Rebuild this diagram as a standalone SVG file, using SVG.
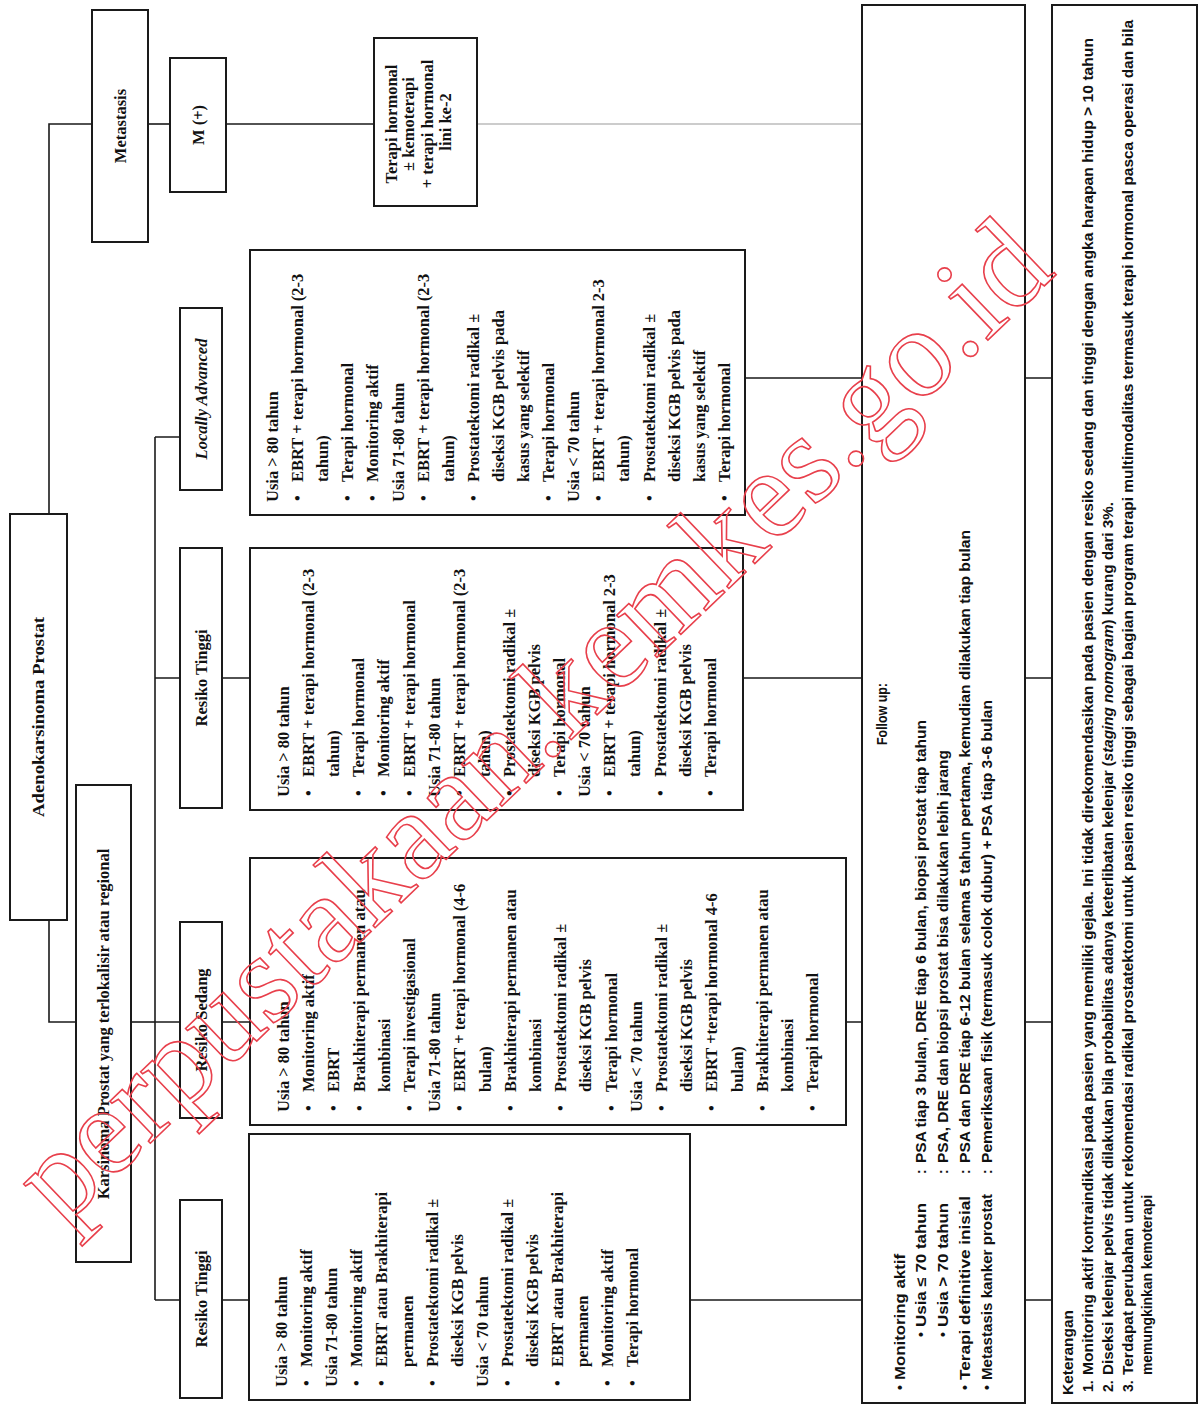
<svg xmlns="http://www.w3.org/2000/svg" width="1204" height="1406" viewBox="0 0 1204 1406">
<style>
.box{fill:#fff;stroke:#1a1a1a;stroke-width:2}
.ln{fill:none;stroke:#1a1a1a;stroke-width:1.6}
.lg{fill:none;stroke:#9a9a9a;stroke-width:1.2}
.b{font-family:"Liberation Serif","Times New Roman",serif;font-weight:bold;font-size:16.5px;fill:#111}
.bm{text-anchor:middle}
.s{font-family:"Liberation Sans",Arial,sans-serif;font-weight:bold;font-size:14px;fill:#111}
.wm{font-family:"Liberation Serif","Times New Roman",serif;font-size:127px;fill:none;stroke:#e8404c;stroke-width:1.6}
</style>
<rect x="0" y="0" width="1204" height="1406" fill="#fff"/>
<g transform="translate(0,1406) rotate(-90)">
<g id="connectors">
<path class="ln" d="M892,49 H1282 V92"/>
<path class="ln" d="M1282,148 V170"/>
<path class="ln" d="M1282,226 V374"/>
<path class="lg" d="M1282,477 V862"/>
<path class="ln" d="M486,49 H384 V76"/>
<path class="ln" d="M384,131 V155"/>
<path class="ln" d="M106,155 H969"/>
<path class="ln" d="M969,155 V180 M728,155 V180 M384,155 V180 M106,155 V180"/>
<path class="ln" d="M728,222 V250 M384,222 V250 M106,222 V250"/>
<path class="ln" d="M1028,745 V862 M728,743 V862 M384,846 V862 M106,690 V862"/>
<path class="ln" d="M1028,1025 V1052 M728,1025 V1052 M384,1025 V1052 M106,1025 V1052"/>
</g>
<g id="adenokarsinoma">
<rect class="box" x="486" y="10" width="406" height="57"/>
<text class="b bm" x="689" y="44" textLength="200" lengthAdjust="spacingAndGlyphs">Adenokarsinoma Prostat</text>
</g>
<g id="karsinoma">
<rect class="box" x="144" y="76" width="477" height="55"/>
<text class="b bm" x="382" y="109">Karsinoma Prostat yang terlokalisir atau regional</text>
</g>
<g id="metastasis">
<rect class="box" x="1164" y="92" width="232" height="56"/>
<text class="b bm" x="1280" y="126">Metastasis</text>
</g>
<g id="m-plus">
<rect class="box" x="1214" y="170" width="134" height="56"/>
<text class="b bm" x="1281" y="204">M (+)</text>
</g>
<g id="terapi-metastasis">
<rect class="box" x="1200" y="374" width="168" height="103"/>
<text class="b bm">
<tspan x="1284" y="397">Terapi hormonal</tspan>
<tspan x="1284" y="414">± kemoterapi</tspan>
<tspan x="1284" y="433">+ terapi hormonal</tspan>
<tspan x="1284" y="451">lini ke-2</tspan>
</text>
</g>
<g id="locally-advanced">
<rect class="box" x="916" y="180" width="182" height="42"/>
<text class="b bm" x="1007" y="206.5" font-style="italic">Locally Advanced</text>
</g>
<g id="resiko-tinggi-2">
<rect class="box" x="598" y="180" width="260" height="42"/>
<text class="b bm" x="728" y="206.5">Resiko Tinggi</text>
</g>
<g id="resiko-sedang">
<rect class="box" x="288" y="180" width="196" height="42"/>
<text class="b bm" x="386" y="206.5">Resiko Sedang</text>
</g>
<g id="resiko-tinggi-1">
<rect class="box" x="8" y="180" width="198" height="42"/>
<text class="b bm" x="107" y="206.5">Resiko Tinggi</text>
</g>
<g id="terapi-locally">
<rect class="box" x="891" y="250" width="265" height="495"/>
<text class="b">
<tspan x="904" y="278">Usia &gt; 80 tahun</tspan>
<tspan x="905" y="303.1">•</tspan><tspan x="924" y="303.1">EBRT + terapi hormonal (2-3</tspan>
<tspan x="924" y="328.2">tahun)</tspan>
<tspan x="905" y="353.3">•</tspan><tspan x="924" y="353.3">Terapi hormonal</tspan>
<tspan x="905" y="378.4">•</tspan><tspan x="924" y="378.4">Monitoring aktif</tspan>
<tspan x="904" y="403.5">Usia 71-80 tahun</tspan>
<tspan x="905" y="428.6">•</tspan><tspan x="924" y="428.6">EBRT + terapi hormonal (2-3</tspan>
<tspan x="924" y="453.7">tahun)</tspan>
<tspan x="905" y="478.8">•</tspan><tspan x="924" y="478.8">Prostatektomi radikal ±</tspan>
<tspan x="924" y="503.9">diseksi KGB pelvis pada</tspan>
<tspan x="924" y="529">kasus yang selektif</tspan>
<tspan x="905" y="554.1">•</tspan><tspan x="924" y="554.1">Terapi hormonal</tspan>
<tspan x="904" y="579.2">Usia &lt; 70 tahun</tspan>
<tspan x="905" y="604.3">•</tspan><tspan x="924" y="604.3">EBRT + terapi hormonal 2-3</tspan>
<tspan x="924" y="629.4">tahun)</tspan>
<tspan x="905" y="654.5">•</tspan><tspan x="924" y="654.5">Prostatektomi radikal ±</tspan>
<tspan x="924" y="679.6">diseksi KGB pelvis pada</tspan>
<tspan x="924" y="704.7">kasus yang selektif</tspan>
<tspan x="905" y="729.8">•</tspan><tspan x="924" y="729.8">Terapi hormonal</tspan>
</text>
</g>
<g id="terapi-tinggi-2">
<rect class="box" x="596" y="250" width="262" height="493"/>
<text class="b">
<tspan x="609" y="289">Usia &gt; 80 tahun</tspan>
<tspan x="610" y="314.1">•</tspan><tspan x="629" y="314.1">EBRT + terapi hormonal (2-3</tspan>
<tspan x="629" y="339.2">tahun)</tspan>
<tspan x="610" y="364.3">•</tspan><tspan x="629" y="364.3">Terapi hormonal</tspan>
<tspan x="610" y="389.4">•</tspan><tspan x="629" y="389.4">Monitoring aktif</tspan>
<tspan x="610" y="414.5">•</tspan><tspan x="629" y="414.5">EBRT + terapi hormonal</tspan>
<tspan x="609" y="439.6">Usia 71-80 tahun</tspan>
<tspan x="610" y="464.7">•</tspan><tspan x="629" y="464.7">EBRT + terapi hormonal (2-3</tspan>
<tspan x="629" y="489.8">tahun)</tspan>
<tspan x="610" y="514.9">•</tspan><tspan x="629" y="514.9">Prostatektomi radikal ±</tspan>
<tspan x="629" y="540">diseksi KGB pelvis</tspan>
<tspan x="610" y="565.1">•</tspan><tspan x="629" y="565.1">Terapi hormonal</tspan>
<tspan x="609" y="590.2">Usia &lt; 70 tahun</tspan>
<tspan x="610" y="615.3">•</tspan><tspan x="629" y="615.3">EBRT + terapi hormonal 2-3</tspan>
<tspan x="629" y="640.4">tahun)</tspan>
<tspan x="610" y="665.5">•</tspan><tspan x="629" y="665.5">Prostatektomi radikal ±</tspan>
<tspan x="629" y="690.6">diseksi KGB pelvis</tspan>
<tspan x="610" y="715.7">•</tspan><tspan x="629" y="715.7">Terapi hormonal</tspan>
</text>
</g>
<g id="terapi-sedang">
<rect class="box" x="281" y="250" width="267" height="596"/>
<text class="b">
<tspan x="294" y="289">Usia &gt; 80 tahun</tspan>
<tspan x="295" y="314.2">•</tspan><tspan x="314" y="314.2">Monitoring aktif</tspan>
<tspan x="295" y="339.4">•</tspan><tspan x="314" y="339.4">EBRT</tspan>
<tspan x="295" y="364.6">•</tspan><tspan x="314" y="364.6">Brakhiterapi permanen atau</tspan>
<tspan x="314" y="389.8">kombinasi</tspan>
<tspan x="295" y="415">•</tspan><tspan x="314" y="415">Terapi investigasional</tspan>
<tspan x="294" y="440.2">Usia 71-80 tahun</tspan>
<tspan x="295" y="465.4">•</tspan><tspan x="314" y="465.4">EBRT + terapi hormonal (4-6</tspan>
<tspan x="314" y="490.6">bulan)</tspan>
<tspan x="295" y="515.8">•</tspan><tspan x="314" y="515.8">Brakhiterapi permanen atau</tspan>
<tspan x="314" y="541">kombinasi</tspan>
<tspan x="295" y="566.2">•</tspan><tspan x="314" y="566.2">Prostatektomi radikal ±</tspan>
<tspan x="314" y="591.4">diseksi KGB pelvis</tspan>
<tspan x="295" y="616.6">•</tspan><tspan x="314" y="616.6">Terapi hormonal</tspan>
<tspan x="294" y="641.8">Usia &lt; 70 tahun</tspan>
<tspan x="295" y="667">•</tspan><tspan x="314" y="667">Prostatektomi radikal ±</tspan>
<tspan x="314" y="692.2">diseksi KGB pelvis</tspan>
<tspan x="295" y="717.4">•</tspan><tspan x="314" y="717.4">EBRT +terapi hormonal 4-6</tspan>
<tspan x="314" y="742.6">bulan)</tspan>
<tspan x="295" y="767.8">•</tspan><tspan x="314" y="767.8">Brakhiterapi permanen atau</tspan>
<tspan x="314" y="793">kombinasi</tspan>
<tspan x="295" y="818.2">•</tspan><tspan x="314" y="818.2">Terapi hormonal</tspan>
</text>
</g>
<g id="terapi-tinggi-1">
<rect class="box" x="6" y="249" width="266" height="441"/>
<text class="b">
<tspan x="19" y="287">Usia &gt; 80 tahun</tspan>
<tspan x="20" y="312.1">•</tspan><tspan x="39" y="312.1">Monitoring aktif</tspan>
<tspan x="19" y="337.2">Usia 71-80 tahun</tspan>
<tspan x="20" y="362.3">•</tspan><tspan x="39" y="362.3">Monitoring aktif</tspan>
<tspan x="20" y="387.4">•</tspan><tspan x="39" y="387.4">EBRT atau Brakhiterapi</tspan>
<tspan x="39" y="412.5">permanen</tspan>
<tspan x="20" y="437.6">•</tspan><tspan x="39" y="437.6">Prostatektomi radikal ±</tspan>
<tspan x="39" y="462.7">diseksi KGB pelvis</tspan>
<tspan x="19" y="487.8">Usia &lt; 70 tahun</tspan>
<tspan x="20" y="512.9">•</tspan><tspan x="39" y="512.9">Prostatektomi radikal ±</tspan>
<tspan x="39" y="538">diseksi KGB pelvis</tspan>
<tspan x="20" y="563.1">•</tspan><tspan x="39" y="563.1">EBRT atau Brakhiterapi</tspan>
<tspan x="39" y="588.2">permanen</tspan>
<tspan x="20" y="613.3">•</tspan><tspan x="39" y="613.3">Monitoring aktif</tspan>
<tspan x="20" y="638.4">•</tspan><tspan x="39" y="638.4">Terapi hormonal</tspan>
</text>
</g>
<g id="follow-up">
<rect class="box" x="3" y="862" width="1398" height="163"/>
<text class="s" x="692" y="887" text-anchor="middle" textLength="62" lengthAdjust="spacingAndGlyphs">Follow up:</text>
<text class="s">
<tspan x="16" y="905">•</tspan>
<tspan x="69" y="926">•</tspan><tspan x="232" y="926">:</tspan>
<tspan x="69" y="948">•</tspan><tspan x="232" y="948">:</tspan>
<tspan x="16" y="970">•</tspan><tspan x="232" y="970">:</tspan>
<tspan x="16" y="992">•</tspan><tspan x="232" y="992">:</tspan>
</text>
<text class="s" x="26" y="905" textLength="126" lengthAdjust="spacingAndGlyphs">Monitoring aktif</text>
<text class="s" x="79" y="926" textLength="124" lengthAdjust="spacingAndGlyphs">Usia ≤ 70 tahun</text>
<text class="s" x="79" y="948" textLength="124" lengthAdjust="spacingAndGlyphs">Usia &gt; 70 tahun</text>
<text class="s" x="26" y="970" textLength="184" lengthAdjust="spacingAndGlyphs">Terapi definitive inisial</text>
<text class="s" x="26" y="992" textLength="186" lengthAdjust="spacingAndGlyphs">Metastasis kanker prostat</text>
<text class="s" x="243" y="926" textLength="443" lengthAdjust="spacingAndGlyphs">PSA tiap 3 bulan, DRE tiap 6 bulan, biopsi prostat tiap tahun</text>
<text class="s" x="243" y="948" textLength="413" lengthAdjust="spacingAndGlyphs">PSA, DRE dan biopsi prostat bisa dilakukan lebih jarang</text>
<text class="s" x="243" y="970" textLength="633" lengthAdjust="spacingAndGlyphs">PSA dan DRE tiap 6-12 bulan selama 5 tahun pertama, kemudian dilakukan tiap bulan</text>
<text class="s" x="243" y="992" textLength="463" lengthAdjust="spacingAndGlyphs">Pemeriksaan fisik (termasuk colok dubur) + PSA tiap 3-6 bulan</text>
</g>
<g id="keterangan">
<rect class="box" x="3" y="1052" width="1398" height="145"/>
<text class="s" x="11" y="1073" textLength="85" lengthAdjust="spacingAndGlyphs">Keterangan</text>
<text class="s"><tspan x="14" y="1093">1.</tspan><tspan x="14" y="1113">2.</tspan><tspan x="14" y="1133">3.</tspan></text>
<text class="s" x="31" y="1093" textLength="1337" lengthAdjust="spacingAndGlyphs">Monitoring aktif kontraindikasi pada pasien yang memiliki gejala. Ini tidak direkomendasikan pada pasien dengan resiko sedang dan tinggi dengan angka harapan hidup &gt; 10 tahun</text>
<text class="s" x="31" y="1113" textLength="873" lengthAdjust="spacingAndGlyphs">Diseksi kelenjar pelvis tidak dilakukan bila probabilitas adanya keterlibatan kelenjar (<tspan font-style="italic">staging nomogram</tspan>) kurang dari 3%.</text>
<text class="s" x="31" y="1133" textLength="1355" lengthAdjust="spacingAndGlyphs">Terdapat perubahan untuk rekomendasi radikal prostatektomi untuk pasien resiko tinggi sebagai bagian program terapi multimodalitas termasuk terapi hormonal pasca operasi dan bila</text>
<text class="s" x="31" y="1152" textLength="180" lengthAdjust="spacingAndGlyphs">memungkinkan kemoterapi</text>
</g>
</g>
<text class="wm" x="0" y="0" transform="translate(62,1228) rotate(-43.8)">perpustakaan.kemkes.go.id</text>
</svg>
